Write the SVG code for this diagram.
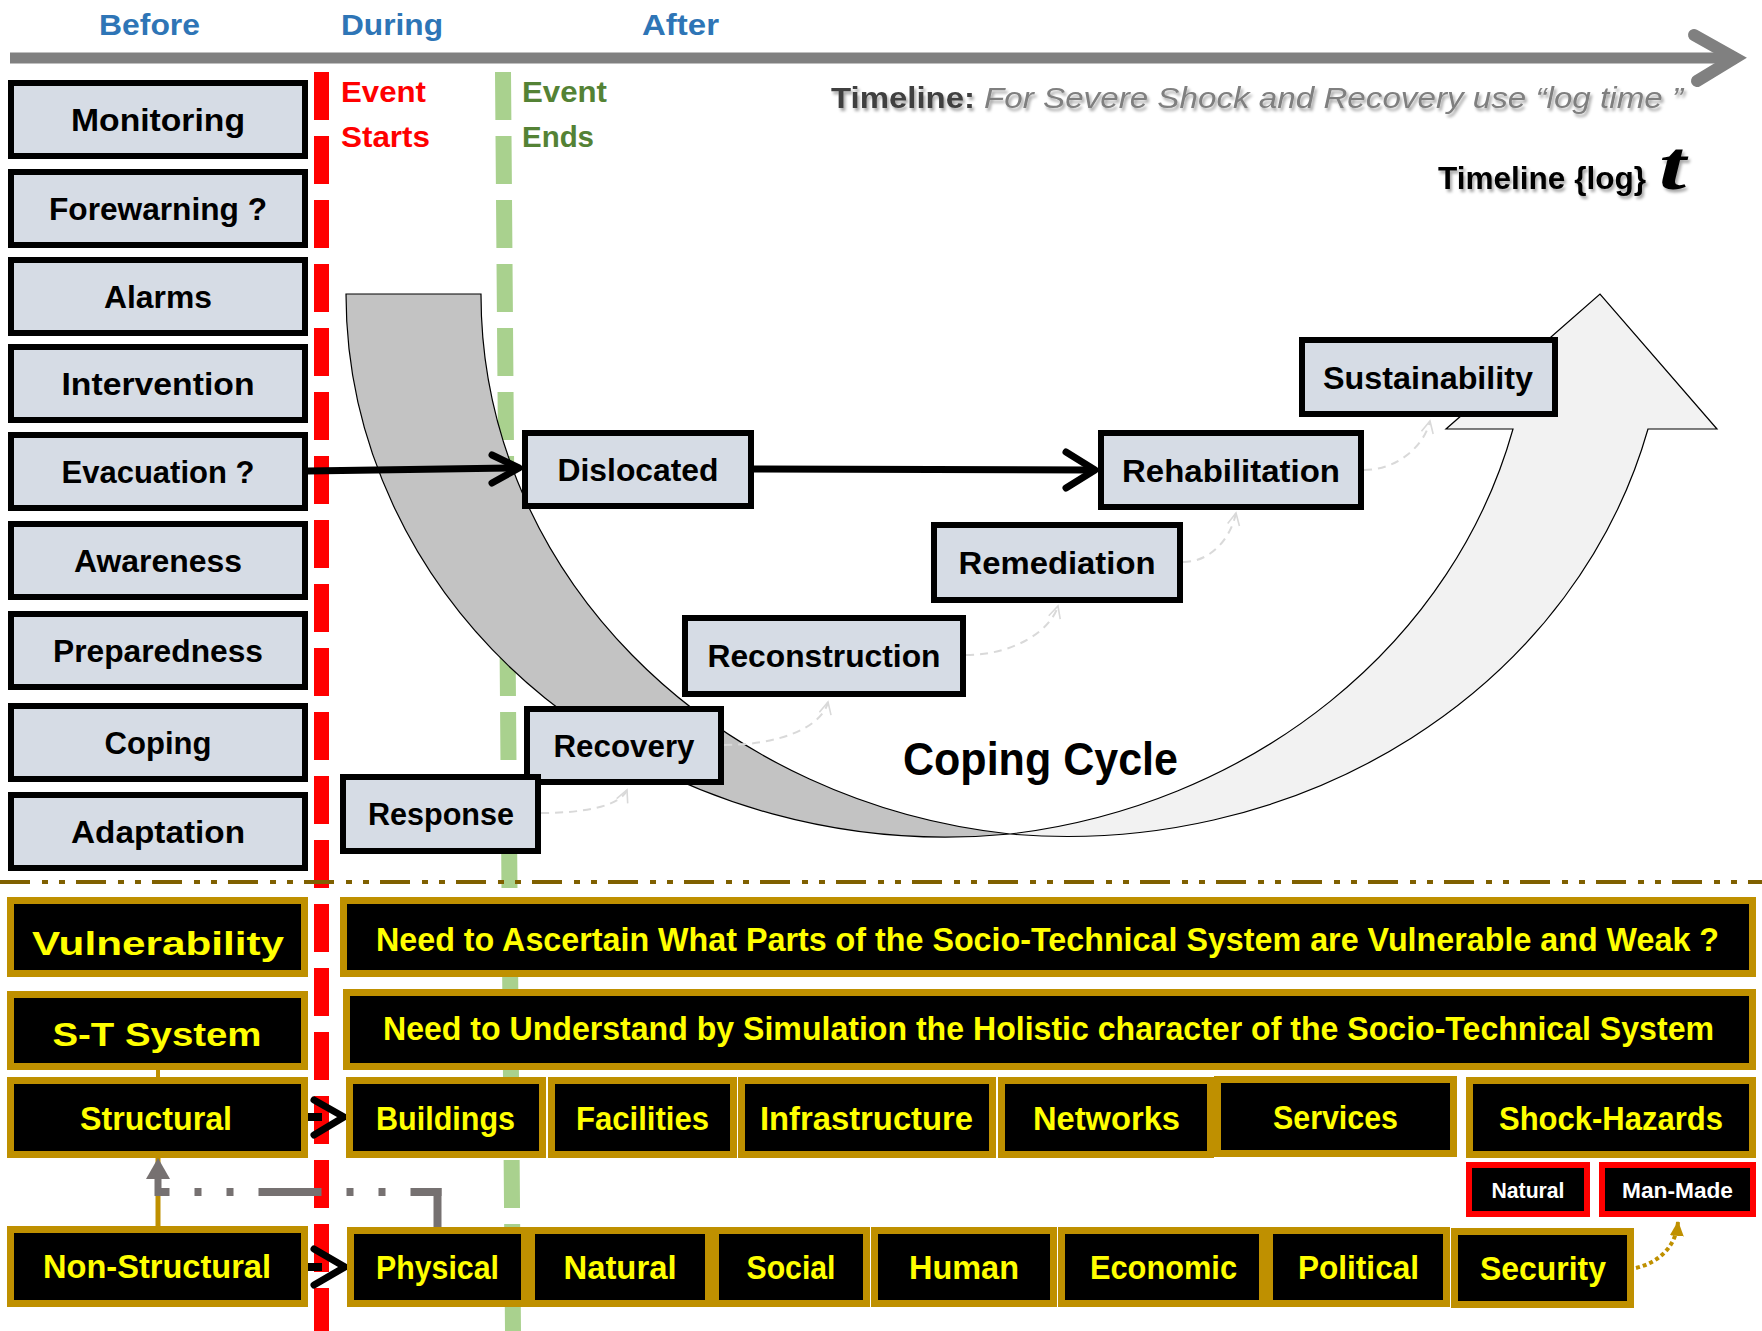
<svg xmlns="http://www.w3.org/2000/svg" width="1762" height="1331" viewBox="0 0 1762 1331">
  <defs>
    <style>
      .lbl { font-family: "Liberation Sans Narrow", "Liberation Sans", Arial, sans-serif; font-weight: 700; text-anchor: middle; }
      .hdr { font-family: "Liberation Sans Narrow", "Liberation Sans", Arial, sans-serif; font-weight: 700; }
      .node rect { fill: #D6DCE5; stroke: #000; stroke-width: 6; }
      .node text { fill: #000; font-size: 32px; }
      .gold rect { fill: #000; stroke: #BF9000; stroke-width: 7; }
      .gold text { fill: #FFFF00; font-size: 33px; }
      .haz rect { fill: #000; stroke: #FF0000; stroke-width: 6; }
      .haz text { fill: #FFFFFF; font-size: 22px; }
      .blk { fill: none; stroke: #000; stroke-width: 7; stroke-linecap: round; stroke-linejoin: round; }
      .faint { fill: none; stroke: #D9D9D9; stroke-width: 2; stroke-dasharray: 8 6; }
      .phase { fill: #2E75B6; font-size: 29px; }
    </style>
    <filter id="shadow" x="-5%" y="-30%" width="110%" height="170%">
      <feDropShadow dx="2" dy="3" stdDeviation="1.8" flood-color="#000" flood-opacity="0.35"/>
    </filter>
    <marker id="openHead" markerUnits="userSpaceOnUse" markerWidth="16" markerHeight="14" viewBox="0 0 16 14" refX="14" refY="7" orient="auto">
      <path d="M2,1 L14,7 L2,13" fill="none" stroke="#D9D9D9" stroke-width="1.6"/>
    </marker>
    <marker id="goldHead" markerUnits="userSpaceOnUse" markerWidth="16" markerHeight="16" viewBox="0 0 16 16" refX="14" refY="8" orient="auto">
      <path d="M0,1 L15,8 L0,15 Z" fill="#BF9000"/>
    </marker>
  </defs>

  <!-- time axis -->
  <g id="timeline">
    <line x1="10" y1="58" x2="1728" y2="58" stroke="#808080" stroke-width="11"/>
    <path d="M1694,35 L1735,58 L1697,81" fill="none" stroke="#808080" stroke-width="12" stroke-linecap="round" stroke-linejoin="miter"/>
  </g>

  <!-- phase headers -->
  <g id="phases" class="hdr">
    <text class="phase" x="99" y="35" textLength="101" lengthAdjust="spacingAndGlyphs">Before</text>
    <text class="phase" x="341" y="35" textLength="102" lengthAdjust="spacingAndGlyphs">During</text>
    <text class="phase" x="642" y="35" textLength="77" lengthAdjust="spacingAndGlyphs">After</text>
    <text x="341" y="102" fill="#FF0000" font-size="29" textLength="85" lengthAdjust="spacingAndGlyphs">Event</text>
    <text x="341" y="147" fill="#FF0000" font-size="29" textLength="89" lengthAdjust="spacingAndGlyphs">Starts</text>
    <text x="522" y="102" fill="#548235" font-size="29" textLength="85" lengthAdjust="spacingAndGlyphs">Event</text>
    <text x="522" y="147" fill="#548235" font-size="29" textLength="72" lengthAdjust="spacingAndGlyphs">Ends</text>
  </g>

  <g id="timeline-notes" filter="url(#shadow)">
    <text class="hdr" x="831" y="108" fill="#404040" font-size="29" textLength="144" lengthAdjust="spacingAndGlyphs">Timeline:</text>
    <text x="984" y="108" fill="#7F7F7F" font-size="29" font-style="italic" font-family="'Liberation Sans Narrow', 'Liberation Sans', Arial, sans-serif" textLength="699" lengthAdjust="spacingAndGlyphs">For Severe Shock and Recovery use  “log time ”</text>
    <text class="hdr" x="1438" y="189" fill="#000" font-size="32" textLength="208" lengthAdjust="spacingAndGlyphs">Timeline {log}</text>
    <text x="1659" y="189" fill="#000" font-size="70" font-style="italic" font-weight="700" font-family="'Liberation Serif', 'Times New Roman', serif" textLength="27" lengthAdjust="spacingAndGlyphs">t</text>
  </g>

  <!-- event start / end markers -->
  <g id="event-lines" fill="none" stroke-dasharray="48 16">
    <line x1="321.5" y1="72" x2="321.5" y2="1331" stroke="#FF0000" stroke-width="15"/>
    <line x1="503" y1="72" x2="513" y2="1331" stroke="#A9D18E" stroke-width="16"/>
  </g>

  <!-- separator between coping and system sections -->
  <line id="separator" x1="0" y1="882" x2="1762" y2="882" stroke="#7F6000" stroke-width="4" stroke-dasharray="30 12 6 11 6 11"/>

  <!-- coping cycle: curved up-arrow -->
  <g id="coping-cycle-arrow" stroke="#000" stroke-width="1.2" stroke-linejoin="miter">
    <path d="M346,294 L481,294 A600,543 0 0 0 1010,834 A600,543 0 0 1 346,294 Z" fill="#C3C3C3"/>
    <path d="M1010,834 A600,543 0 0 0 1648,429 L1717,429 L1600,294 L1446,429 L1513,429 A600,543 0 0 1 1010,834 Z" fill="#F2F2F2"/>
  </g>
  <text id="coping-cycle-label" class="lbl" x="1040.5" y="775" font-size="46" textLength="275" lengthAdjust="spacingAndGlyphs">Coping Cycle</text>

  <!-- connectors -->
  <g id="connectors">
    <line class="blk" x1="308" y1="471" x2="517" y2="468"/>
    <path class="blk" d="M492,455 L519,468 L492,483"/>
    <line class="blk" x1="754" y1="469" x2="1093" y2="470"/>
    <path class="blk" d="M1066,452 L1095,470 L1066,488"/>

    <path class="faint" d="M541,813 C585,813 620,806 627,790" marker-end="url(#openHead)"/>
    <path class="faint" d="M724,745 C780,745 822,727 828,702" marker-end="url(#openHead)"/>
    <path class="faint" d="M966,655 C1012,655 1050,632 1058,606" marker-end="url(#openHead)"/>
    <path class="faint" d="M1183,562 C1212,562 1231,537 1236,513" marker-end="url(#openHead)"/>
    <path class="faint" d="M1364,470 C1396,470 1424,447 1430,421" marker-end="url(#openHead)"/>

    <line x1="158" y1="1068" x2="158" y2="1079" stroke="#BF9000" stroke-width="4"/>
    <line x1="158" y1="1228" x2="158" y2="1158" stroke="#BF9000" stroke-width="5"/>
    <line x1="437.5" y1="1229" x2="437.5" y2="1188" stroke="#767171" stroke-width="8"/>
    <line x1="441.5" y1="1192" x2="158" y2="1192" stroke="#767171" stroke-width="8" stroke-dasharray="63 25 7 25 7 25" stroke-dashoffset="32"/>
    <line x1="158" y1="1196" x2="158" y2="1174" stroke="#767171" stroke-width="7"/>
    <path d="M146,1179 L158,1158 L170,1179 Z" fill="#767171"/>

    <line x1="306" y1="1117" x2="322" y2="1117" stroke="#000" stroke-width="8"/>
    <path class="blk" d="M314,1100 L344,1117 L314,1135"/>
    <line x1="306" y1="1267" x2="322" y2="1267" stroke="#000" stroke-width="8"/>
    <path class="blk" d="M314,1249 L345,1267 L314,1285"/>

    <path d="M1636,1268 C1660,1262 1676,1246 1678,1222" fill="none" stroke="#BF9000" stroke-width="4" stroke-dasharray="4 3" marker-end="url(#goldHead)"/>
  </g>

  <!-- before-event measures -->
  <g id="monitoring" class="node lbl"><rect x="11" y="83" width="294" height="73"/><text x="158" y="131" textLength="174" lengthAdjust="spacingAndGlyphs">Monitoring</text></g>
  <g id="forewarning" class="node lbl"><rect x="11" y="172" width="294" height="73"/><text x="158" y="220" textLength="218" lengthAdjust="spacingAndGlyphs">Forewarning ?</text></g>
  <g id="alarms" class="node lbl"><rect x="11" y="260" width="294" height="73"/><text x="158" y="308" textLength="108" lengthAdjust="spacingAndGlyphs">Alarms</text></g>
  <g id="intervention" class="node lbl"><rect x="11" y="347" width="294" height="73"/><text x="158" y="395" textLength="193" lengthAdjust="spacingAndGlyphs">Intervention</text></g>
  <g id="evacuation" class="node lbl"><rect x="11" y="435" width="294" height="73"/><text x="158" y="483" textLength="193" lengthAdjust="spacingAndGlyphs">Evacuation ?</text></g>
  <g id="awareness" class="node lbl"><rect x="11" y="524" width="294" height="73"/><text x="158" y="572" textLength="168" lengthAdjust="spacingAndGlyphs">Awareness</text></g>
  <g id="preparedness" class="node lbl"><rect x="11" y="614" width="294" height="73"/><text x="158" y="662" textLength="210" lengthAdjust="spacingAndGlyphs">Preparedness</text></g>
  <g id="coping" class="node lbl"><rect x="11" y="706" width="294" height="73"/><text x="158" y="754" textLength="107" lengthAdjust="spacingAndGlyphs">Coping</text></g>
  <g id="adaptation" class="node lbl"><rect x="11" y="795" width="294" height="73"/><text x="158" y="843" textLength="174" lengthAdjust="spacingAndGlyphs">Adaptation</text></g>

  <!-- coping cycle stages -->
  <g id="dislocated" class="node lbl"><rect x="525" y="433" width="226" height="73"/><text x="638" y="481" textLength="161" lengthAdjust="spacingAndGlyphs">Dislocated</text></g>
  <g id="rehabilitation" class="node lbl"><rect x="1101" y="433" width="260" height="74"/><text x="1231" y="482" textLength="218" lengthAdjust="spacingAndGlyphs">Rehabilitation</text></g>
  <g id="sustainability" class="node lbl"><rect x="1302" y="340" width="253" height="74"/><text x="1428" y="389" textLength="210" lengthAdjust="spacingAndGlyphs">Sustainability</text></g>
  <g id="remediation" class="node lbl"><rect x="934" y="525" width="246" height="75"/><text x="1057" y="574" textLength="197" lengthAdjust="spacingAndGlyphs">Remediation</text></g>
  <g id="reconstruction" class="node lbl"><rect x="685" y="618" width="278" height="76"/><text x="824" y="667" textLength="233" lengthAdjust="spacingAndGlyphs">Reconstruction</text></g>
  <g id="recovery" class="node lbl"><rect x="527" y="709" width="194" height="73"/><text x="624" y="757" textLength="141" lengthAdjust="spacingAndGlyphs">Recovery</text></g>
  <g id="response" class="node lbl"><rect x="343" y="777" width="195" height="74"/><text x="441" y="825" textLength="146" lengthAdjust="spacingAndGlyphs">Response</text></g>

  <!-- socio-technical system section -->
  <g id="vulnerability" class="gold lbl"><rect x="10.5" y="900.5" width="294" height="73"/><text x="158" y="955" font-size="48" textLength="252" lengthAdjust="spacingAndGlyphs">Vulnerability</text></g>
  <g id="st-system" class="gold lbl"><rect x="10.5" y="994.5" width="294" height="72"/><text x="157" y="1046" font-size="46" textLength="209" lengthAdjust="spacingAndGlyphs">S-T System</text></g>
  <g id="need-ascertain" class="gold lbl"><rect x="343.5" y="900.5" width="1409" height="73"/><text x="1047.5" y="951" font-size="32" textLength="1343" lengthAdjust="spacingAndGlyphs">Need to Ascertain What Parts of the Socio-Technical System are Vulnerable and Weak ?</text></g>
  <g id="need-understand" class="gold lbl"><rect x="346.5" y="992.5" width="1406" height="74"/><text x="1048.5" y="1040" font-size="32" textLength="1331" lengthAdjust="spacingAndGlyphs">Need to Understand by Simulation the Holistic character of the Socio-Technical System</text></g>

  <g id="structural" class="gold lbl"><rect x="10.5" y="1080.5" width="294" height="74"/><text x="156" y="1130" textLength="152" lengthAdjust="spacingAndGlyphs">Structural</text></g>
  <g id="buildings" class="gold lbl"><rect x="349.5" y="1080.5" width="193" height="74"/><text x="445.5" y="1130" textLength="139" lengthAdjust="spacingAndGlyphs">Buildings</text></g>
  <g id="facilities" class="gold lbl"><rect x="551.5" y="1080.5" width="182" height="74"/><text x="642.5" y="1130" textLength="133" lengthAdjust="spacingAndGlyphs">Facilities</text></g>
  <g id="infrastructure" class="gold lbl"><rect x="741.5" y="1080.5" width="251" height="74"/><text x="866.5" y="1130" textLength="213" lengthAdjust="spacingAndGlyphs">Infrastructure</text></g>
  <g id="networks" class="gold lbl"><rect x="1001.5" y="1080.5" width="209" height="74"/><text x="1106.5" y="1130" textLength="147" lengthAdjust="spacingAndGlyphs">Networks</text></g>
  <g id="services" class="gold lbl"><rect x="1217.5" y="1079.5" width="236" height="74"/><text x="1335.5" y="1129" textLength="125" lengthAdjust="spacingAndGlyphs">Services</text></g>
  <g id="shock-hazards" class="gold lbl"><rect x="1469.5" y="1080.5" width="283" height="74"/><text x="1611" y="1130" textLength="224" lengthAdjust="spacingAndGlyphs">Shock-Hazards</text></g>

  <g id="hazard-natural" class="haz lbl"><rect x="1469" y="1165" width="118" height="49"/><text x="1528" y="1198" textLength="73" lengthAdjust="spacingAndGlyphs">Natural</text></g>
  <g id="hazard-man-made" class="haz lbl"><rect x="1602" y="1165" width="151" height="49"/><text x="1677.5" y="1198" textLength="111" lengthAdjust="spacingAndGlyphs">Man-Made</text></g>

  <g id="non-structural" class="gold lbl"><rect x="10.5" y="1229.5" width="294" height="74"/><text x="157" y="1278" textLength="228" lengthAdjust="spacingAndGlyphs">Non-Structural</text></g>
  <g id="physical" class="gold lbl"><rect x="350.5" y="1230.5" width="174" height="73"/><text x="437.5" y="1279" textLength="123" lengthAdjust="spacingAndGlyphs">Physical</text></g>
  <g id="natural" class="gold lbl"><rect x="531.5" y="1230.5" width="177" height="73"/><text x="620" y="1279" textLength="113" lengthAdjust="spacingAndGlyphs">Natural</text></g>
  <g id="social" class="gold lbl"><rect x="715.5" y="1230.5" width="151" height="73"/><text x="791" y="1279" textLength="89" lengthAdjust="spacingAndGlyphs">Social</text></g>
  <g id="human" class="gold lbl"><rect x="874.5" y="1230.5" width="179" height="73"/><text x="964" y="1279" textLength="110" lengthAdjust="spacingAndGlyphs">Human</text></g>
  <g id="economic" class="gold lbl"><rect x="1061.5" y="1230.5" width="201" height="73"/><text x="1163.5" y="1279" textLength="147" lengthAdjust="spacingAndGlyphs">Economic</text></g>
  <g id="political" class="gold lbl"><rect x="1269.5" y="1230.5" width="177" height="73"/><text x="1358.5" y="1279" textLength="121" lengthAdjust="spacingAndGlyphs">Political</text></g>
  <g id="security" class="gold lbl"><rect x="1454.5" y="1231.5" width="176" height="73"/><text x="1543" y="1280" textLength="126" lengthAdjust="spacingAndGlyphs">Security</text></g>
</svg>
